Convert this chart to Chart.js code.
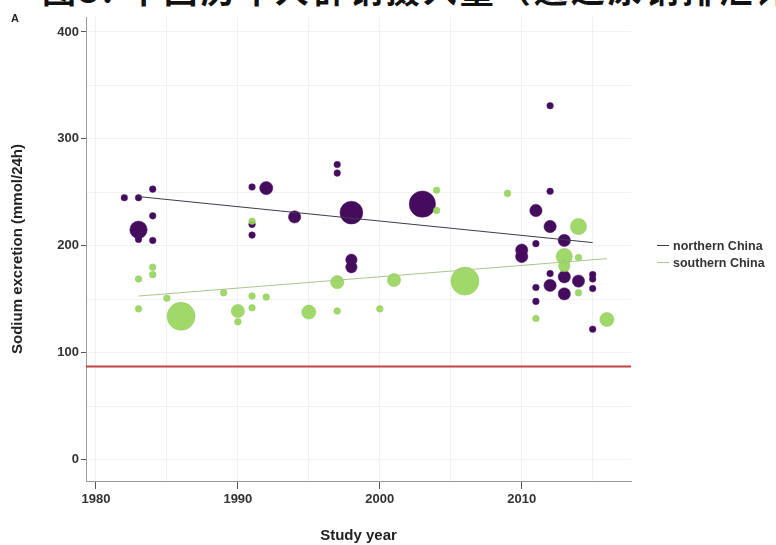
<!DOCTYPE html>
<html>
<head>
<meta charset="utf-8">
<title>Sodium excretion by study year</title>
<script src="https://cdn.jsdelivr.net/npm/chart.js@4.4.1/dist/chart.umd.min.js"></script>
<style>
    body { margin: 0; background: #fff; }
    #wrap { position: relative; width: 776px; height: 545px; overflow: hidden; }
    #fig-title { position: absolute; left: 42px; top: -36px; font-size: 34px; font-weight: bold; font-family: "Noto Sans CJK SC"; white-space: nowrap; color: #111; letter-spacing: 3px; }
    #panel { position: absolute; left: 11px; top: 12px; font: bold 11px "Liberation Sans", Arial, sans-serif; color: #222; }
    #legend { position: absolute; left: 657px; top: 237px; font: bold 12.5px "Liberation Sans", Arial, sans-serif; color: #333; }
    #legend .item { display: flex; align-items: center; height: 17px; }
    #legend .swatch { width: 12px; height: 0; border-top: 1px solid; margin-right: 4px; }
    canvas { position: absolute; left: 0; top: 0; }
</style>
</head>
<body>
<div id="wrap">
    <div id="fig-title">图3. 中国历年人群钠摄入量（通过尿钠排泄评估）的变化趋势</div>
    <canvas id="sodiumChart" width="776" height="545"></canvas>
    <div id="panel">A</div>
    <div id="legend"></div>
</div>
<script>
// northern China studies
var northYears  = [1982, 1983, 1984, 1984, 1983, 1983, 1984, 1991, 1992, 1991, 1991, 1994, 1997, 1997, 1998, 1998, 1998,
                   2003, 2012, 2012, 2011, 2012, 2013, 2011, 2010, 2010, 2012, 2013, 2012, 2014, 2013, 2011, 2011,
                   2015, 2015, 2015, 2015];
var northSodium = [245, 245, 253, 228, 215, 206, 205, 255, 254, 220, 210, 227, 276, 268, 231, 187, 180,
                   239, 331, 251, 233, 218, 205, 202, 196, 190, 174, 171, 163, 167, 155, 161, 148,
                   173, 169, 160, 122];
var northWeight = [1, 1, 1, 1, 7, 1, 1, 1, 4, 1, 1, 3.5, 1, 1, 12, 3, 3,
                   16, 1, 1, 3.5, 3.5, 3.5, 1, 3.5, 3.5, 1, 3.5, 3.5, 3.5, 3.5, 1, 1,
                   1, 1, 1, 1];

// southern China studies
var southYears  = [1984, 1984, 1983, 1983, 1985, 1986, 1989, 1990, 1990, 1991, 1991, 1991, 1992, 1995, 1997, 1997,
                   2000, 2001, 2004, 2004, 2009, 2006, 2014, 2013, 2013, 2014, 2014, 2011, 2016];
var southSodium = [180, 173, 169, 141, 151, 134, 156, 139, 129, 153, 142, 223, 152, 138, 166, 139,
                   141, 168, 252, 233, 249, 167, 218, 190, 181, 189, 156, 132, 131];
var southWeight = [1, 1, 1, 1, 1, 18, 1, 4, 1, 1, 1, 1, 1, 4.5, 4, 1,
                   1, 4, 1, 1, 1, 18, 6, 6, 3, 1, 1, 1, 4.5];

// fitted trend lines (end points)
var northTrendYears = [1983, 2015];
var northTrend      = [246, 203];
var southTrendYears = [1983, 2016];
var southTrend      = [153, 188];

// recommended intake, 2 g sodium
var targetSodium = 87;

var yearRange   = [1979.3, 2017.7];
var sodiumRange = [-20, 414];
var yearTicks   = [1980, 1985, 1990, 1995, 2000, 2005, 2010, 2015];
var sodiumTicks = [0, 50, 100, 150, 200, 250, 300, 350, 400];

function bubbles(years, values, weights) {
    return years.map(function(year, i) {
        return { x: year, y: values[i], r: 3.3 * Math.sqrt(weights[i]) };
    });
}

function points(xs, ys) {
    return xs.map(function(x, i) { return { x: x, y: ys[i] }; });
}

var tickFont = { family: '"Liberation Sans", Arial, sans-serif', size: 13, weight: 'bold' };
var titleFont = { family: '"Liberation Sans", Arial, sans-serif', size: 15, weight: 'bold' };

var ctx = document.getElementById('sodiumChart');
var chart = new Chart(ctx, {
    type: 'bubble',
    data: {
        datasets: [
            {
                type: 'line',
                label: 'northern China',
                inLegend: true,
                data: points(northTrendYears, northTrend),
                borderColor: '#3f3a4a',
                borderWidth: 1,
                pointRadius: 0,
                order: 0
            },
            {
                type: 'line',
                label: 'southern China',
                inLegend: true,
                data: points(southTrendYears, southTrend),
                borderColor: '#a9c48f',
                borderWidth: 1,
                pointRadius: 0,
                order: 0
            },
            {
                label: 'southern studies',
                data: bubbles(southYears, southSodium, southWeight),
                backgroundColor: 'rgba(152, 214, 92, 0.92)',
                borderColor: 'rgba(140, 200, 85, 1)',
                borderWidth: 0.5,
                order: 1
            },
            {
                label: 'northern studies',
                data: bubbles(northYears, northSodium, northWeight),
                backgroundColor: '#450c5e',
                borderColor: '#511b68',
                borderWidth: 0.5,
                order: 2
            },
            {
                type: 'line',
                label: 'recommended',
                data: points(yearRange, [targetSodium, targetSodium]),
                borderColor: '#c2423f',
                borderWidth: 2,
                pointRadius: 0,
                order: 3
            }
        ]
    },
    options: {
        responsive: false,
        animation: false,
        devicePixelRatio: 1,
        layout: {
            padding: { top: 17, right: 145, bottom: 0, left: 0 }
        },
        plugins: {
            legend: { display: false },
            tooltip: { enabled: false }
        },
        scales: {
            x: {
                type: 'linear',
                min: yearRange[0],
                max: yearRange[1],
                afterBuildTicks: function(scale) {
                    scale.ticks = yearTicks.map(function(v) { return { value: v }; });
                },
                afterFit: function(scale) {
                    scale.height = 64;
                },
                border: { color: '#9a9a9a', width: 1 },
                grid: {
                    color: '#f1f1f1',
                    tickLength: 8,
                    tickColor: function(c) {
                        return c.tick && c.tick.value % 10 === 0 ? '#555' : 'rgba(0,0,0,0)';
                    }
                },
                ticks: {
                    autoSkip: false,
                    maxRotation: 0,
                    padding: 3,
                    color: '#333',
                    font: tickFont,
                    callback: function(value) {
                        return value % 10 === 0 ? String(value) : '';
                    }
                },
                title: {
                    display: true,
                    text: 'Study year',
                    color: '#222',
                    font: titleFont,
                    padding: { top: 0, bottom: 0 }
                }
            },
            y: {
                min: sodiumRange[0],
                max: sodiumRange[1],
                afterBuildTicks: function(scale) {
                    scale.ticks = sodiumTicks.map(function(v) { return { value: v }; });
                },
                afterFit: function(scale) {
                    scale.width = 86;
                },
                border: { color: '#9a9a9a', width: 1 },
                grid: {
                    color: '#f1f1f1',
                    tickLength: 5,
                    tickColor: function(c) {
                        return c.tick && c.tick.value % 100 === 0 ? '#555' : 'rgba(0,0,0,0)';
                    }
                },
                ticks: {
                    autoSkip: false,
                    padding: 2,
                    color: '#333',
                    font: tickFont,
                    callback: function(value) {
                        return value % 100 === 0 ? String(value) : '';
                    }
                },
                title: {
                    display: true,
                    text: 'Sodium excretion (mmol/24h)',
                    color: '#222',
                    font: titleFont,
                    padding: { top: 9, bottom: 0 }
                }
            }
        }
    }
});

// Simple HTML legend for the two trend lines
var legendBox = document.getElementById('legend');
chart.data.datasets.forEach(function(ds) {
    if (!ds.inLegend) return;
    var item = document.createElement('div');
    item.className = 'item';
    var swatch = document.createElement('span');
    swatch.className = 'swatch';
    swatch.style.borderTopColor = ds.borderColor;
    var text = document.createElement('span');
    text.textContent = ds.label;
    item.appendChild(swatch);
    item.appendChild(text);
    legendBox.appendChild(item);
});
</script>
</body>
</html>
